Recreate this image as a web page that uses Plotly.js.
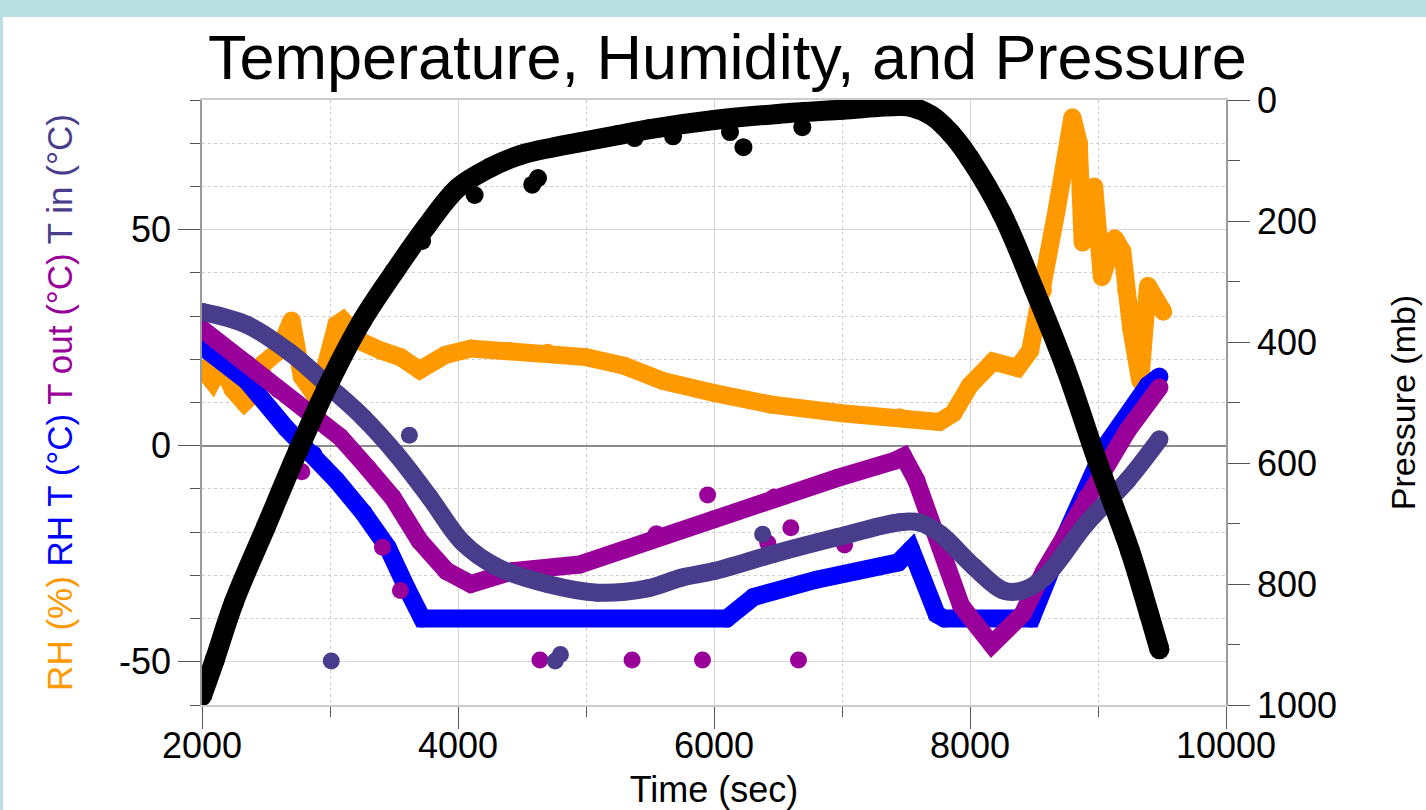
<!DOCTYPE html>
<html>
<head>
<meta charset="utf-8">
<script src="https://cdn.plot.ly/plotly-3.0.1.min.js"></script>
<style>
  html, body { margin: 0; padding: 0; background: #bae0e4; width: 1426px; height: 810px; overflow: hidden; }
  #chart { position: absolute; left: 3px; top: 17px; width: 1423px; height: 793px; background: #ffffff; }
</style>
</head>
<body>
<div id="chart"></div>
<script>
// ---- data ----
const pressureTime = [2000, 2100, 2250, 2500, 2750, 3000, 3250, 3500, 3750, 4000, 4250, 4500, 4750, 5000, 5250, 5500, 6000, 6500, 7000, 7450, 7550, 7700, 7850, 8000, 8250, 8500, 8750, 9000, 9250, 9400, 9480];
const pressureMb   = [985, 925, 830, 705, 580, 465, 365, 285, 210, 145, 112, 90, 78, 68, 58, 48, 33, 23, 16, 10, 12, 26, 55, 97, 188, 312, 445, 600, 745, 850, 908];
const pressureDotTime = [3720, 4130, 4580, 4625, 5380, 5680, 6125, 6230, 6690];
const pressureDotMb   = [233, 157, 140, 129, 63, 60, 53, 78, 45];

const rhTime = [2000, 2080, 2150, 2240, 2330, 2400, 2480, 2600, 2700, 2780, 2900, 3050, 3100, 3250, 3400, 3550, 3700, 3900, 4100, 4400, 4700, 5000, 5300, 5600, 6000, 6450, 7000, 7450, 7760, 7870, 8000, 8180, 8370, 8470, 8570, 8680, 8800, 8850, 8880, 8970, 9030, 9130, 9190, 9220, 9260, 9330, 9390, 9510];
const rhPct  = [18, 15, 19, 13, 10, 12, 19, 22, 29, 16, 11, 28, 29, 24, 22, 20.5, 17.5, 21, 22.5, 22, 21.5, 20.5, 18.5, 15, 12.2, 9.5, 7.5, 6.6, 5.5, 7.5, 14, 19.5, 18, 22, 36, 55, 76, 70, 47, 60, 39, 48, 45, 36, 27, 15, 37, 31];

const rhtTime = [2000, 2350, 2660, 2870, 3050, 3260, 3450, 3600, 3720, 6100, 6310, 6800, 7440, 7540, 7740, 7800, 8480, 8740, 9060, 9390, 9480];
const rhtC    = [23, 15, 4, -2, -8, -15.5, -23.5, -33, -40, -40, -35, -31, -27, -24, -39, -40, -40, -21, 0, 14, 16];

const toutTime = [2000, 2350, 2600, 2870, 3080, 3290, 3490, 3700, 3910, 4100, 4430, 4950, 5300, 5550, 6000, 6470, 6960, 7410, 7480, 7580, 7770, 7930, 8170, 8410, 8580, 8910, 9230, 9480];
const toutC    = [27, 19, 13, 7.5, 2, -5, -12, -22, -29, -32, -29, -27.5, -24, -20.5, -17, -12, -7.5, -3.5, -2.5, -8, -23.5, -37, -46, -39, -29, -12, 3.5, 13.5];
const toutDotTime = [2780, 3410, 3550, 4640, 5360, 5910, 5950, 6420, 6600, 6660, 7020];
const toutDotC    = [-6, -23.5, -33.5, -49.6, -49.6, -49.6, -11.4, -22.5, -19, -49.6, -23];

const tinTime = [2000, 2350, 2690, 3000, 3260, 3520, 3780, 4040, 4300, 4700, 5090, 5480, 5750, 6000, 6470, 6960, 7450, 7610, 7770, 8030, 8260, 8410, 8580, 8910, 9230, 9480];
const tinC    = [31, 28, 21.5, 13.5, 6.5, -2, -12, -22.5, -28, -32, -34, -33, -30.5, -29, -25, -21.2, -17.7, -17.8, -20.5, -28, -33.5, -33.5, -30.5, -18, -8, 1.5];
const tinDotTime = [3010, 3620, 4760, 4800, 6380];
const tinDotC    = [-49.8, 2.4, -49.8, -48.3, -20.5];

const xTickVals = [2000, 4000, 6000, 8000, 10000];
const xTickLabels = ['2000', '4000', '6000', '8000', '10000'];
const yTickVals = [-50, 0, 50];
const yTickLabels = ['-50', '0', '50'];
const pTickVals = [0, 200, 400, 600, 800, 1000];
const pTickLabels = ['0', '200', '400', '600', '800', '1000'];

// ---- styles ----
const FONT = 'Liberation Sans, Arial, Helvetica, sans-serif';
const ORANGE = '#ff9900', BLUE = '#0000ff', PURPLE = '#990099', SLATE = '#483d8b', BLACK = '#000000';

function lineTrace(x, y, color, w, yaxis, shape) {
  return { x: x, y: y, yaxis: yaxis || 'y', type: 'scatter', mode: 'lines+markers',
    line: { color: color, width: w, shape: shape || 'linear' },
    marker: { color: color, size: w }, showlegend: false, hoverinfo: 'x+y' };
}
function dotTrace(x, y, color, s, yaxis) {
  return { x: x, y: y, yaxis: yaxis || 'y', type: 'scatter', mode: 'markers',
    marker: { color: color, size: s }, showlegend: false, hoverinfo: 'x+y' };
}

const data = [
  lineTrace(rhTime, rhPct, ORANGE, 18),
  lineTrace(rhtTime, rhtC, BLUE, 18),
  lineTrace(toutTime, toutC, PURPLE, 18),
  dotTrace(toutDotTime, toutDotC, PURPLE, 17),
  lineTrace(tinTime, tinC, SLATE, 18, 'y', 'spline'),
  dotTrace(tinDotTime, tinDotC, SLATE, 17),
  lineTrace(pressureTime, pressureMb, BLACK, 20, 'y2', 'spline'),
  dotTrace(pressureDotTime, pressureDotMb, BLACK, 18, 'y2')
];

const leftTitle = '<span style="color:' + ORANGE + '">RH (%)</span> ' +
  '<span style="color:' + BLUE + '">RH T (°C)</span> ' +
  '<span style="color:' + PURPLE + '">T out (°C)</span> ' +
  '<span style="color:' + SLATE + '">T in (°C)</span>';

const layout = {
  width: 1423, height: 793,
  margin: { l: 199, r: 200, t: 83, b: 105 },
  paper_bgcolor: '#ffffff', plot_bgcolor: '#ffffff',
  font: { family: FONT, color: '#000000', size: 36 },
  title: { text: 'Temperature, Humidity, and Pressure', font: { family: FONT, size: 63, color: '#000' },
           xref: 'container', yref: 'container', x: 0.509, xanchor: 'center', y: 0.95, yanchor: 'middle' },
  xaxis: {
    range: [2000, 10000], tickmode: 'array', tickvals: xTickVals, ticktext: xTickLabels,
    ticks: 'outside', ticklen: 22, tickcolor: '#555', tickwidth: 1,
    ticklabelstandoff: -14,
    tickfont: { size: 36 },
    showgrid: true, gridcolor: '#d4d4d4', gridwidth: 1,
    minor: { dtick: 1000, tick0: 0, ticks: 'outside', ticklen: 10, tickcolor: '#555', showgrid: true, gridcolor: '#cfcfcf', griddash: 'dot' },
    showline: true, mirror: true, linecolor: '#cccccc', linewidth: 1.5,
    zeroline: false,
    title: { text: 'Time (sec)', font: { size: 36 }, standoff: 14 },
    automargin: false
  },
  yaxis: {
    range: [-60, 80], tickmode: 'array', tickvals: yTickVals, ticktext: yTickLabels,
    ticks: 'outside', ticklen: 22, tickcolor: '#555', tickwidth: 1,
    tickfont: { size: 36 },
    showgrid: true, gridcolor: '#d4d4d4', gridwidth: 1,
    minor: { dtick: 10, tick0: 0, ticks: 'outside', ticklen: 10, tickcolor: '#555', showgrid: true, gridcolor: '#cfcfcf', griddash: 'dot' },
    zeroline: true, zerolinecolor: '#8c8c8c', zerolinewidth: 1.5,
    showline: true, linecolor: '#9a9a9a', linewidth: 1.5,
    title: { text: leftTitle, font: { size: 35 }, standoff: 36 },
    automargin: false
  },
  yaxis2: {
    overlaying: 'y', side: 'right', range: [1000, 0], tickmode: 'array', tickvals: pTickVals, ticktext: pTickLabels,
    ticks: 'outside', ticklen: 22, tickcolor: '#555', tickwidth: 1,
    tickfont: { size: 36 },
    minor: { dtick: 100, tick0: 0, ticks: 'outside', ticklen: 12, tickcolor: '#555', showgrid: false },
    showgrid: false, zeroline: false,
    showline: true, linecolor: '#9a9a9a', linewidth: 1.5,
    title: { text: 'Pressure (mb)', font: { size: 34 }, standoff: 55 },
    automargin: false
  }
};

Plotly.newPlot('chart', data, layout, { displayModeBar: false, responsive: false });
</script>
</body>
</html>
